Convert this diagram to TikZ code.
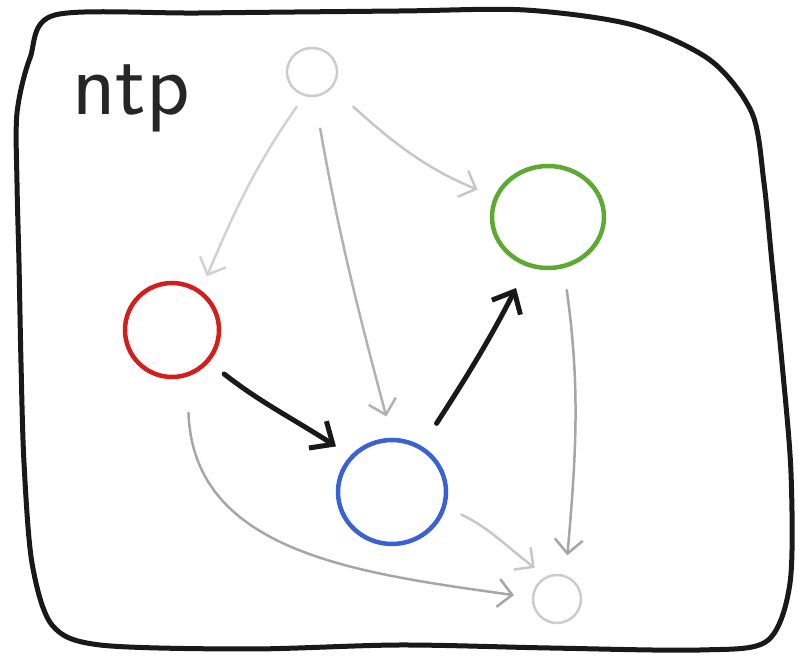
\documentclass[tikz,border=0pt]{standalone}
\usepackage{fontspec}
\usetikzlibrary{arrows.meta,shapes.geometric}
\definecolor{inkred}{RGB}{212,30,30}
\definecolor{inkgreen}{RGB}{92,170,50}
\definecolor{inkblue}{RGB}{58,98,212}
\begin{document}
\begin{tikzpicture}[x=1pt,y=1pt,
  dot/.style={ellipse, draw=#1, line width=4.5pt, inner sep=0pt},
  faint/.style={ellipse, draw=black!20, line width=2.5pt, inner sep=0pt},
  weak/.style={draw=#1, line width=2.5pt, line cap=round, line join=round,
    -{Straight Barb[length=14pt,width=28pt]}},
  bold/.style={draw=black!90, line width=5pt, line cap=round, line join=round,
    -{Straight Barb[length=18pt,width=32pt]}},
]
\useasboundingbox (0,0) rectangle (798,663);

% frame
\draw[line width=5pt, line join=round, black!90] plot[smooth cycle, tension=0.5] coordinates {
  (55,648) (200,650) (400,652) (525,653) (633,638) (710,603) (752,550)
  (764,480) (772,400) (782,300) (791,190) (790,80) (767,22) (700,13)
  (550,15) (400,18) (250,14) (100,18) (52,38) (32,100) (24,200) (21,300)
  (19,400) (17,480) (17,550) (30,605)};

% label
\node[font=\fontsize{90}{90}\sffamily\addfontfeature{LetterSpace=20}, text=black!85,
  anchor=base west, inner sep=0pt] (lbl) at (72,548) {ntp};

% variables
\node[faint, minimum width=50pt, minimum height=48pt] (topn) at (312,591) {};
\node[dot=inkgreen, minimum width=112pt, minimum height=102pt] (green) at (548,446) {};
\node[dot=inkred, minimum width=94pt, minimum height=94pt] (red) at (172,333) {};
\node[dot=inkblue, minimum width=108pt, minimum height=104pt] (blue) at (392,171) {};
\node[faint, minimum width=48pt, minimum height=48pt] (sink) at (557,64) {};

% faint edges
\draw[weak=black!18, shorten <=13pt, shorten >=15pt] (topn.252) to[out=235,in=67] (red.54);
\draw[weak=black!30, shorten <=32pt, shorten >=22pt] (topn.276) to[out=280,in=105] (blue.90);
\draw[weak=black!22, shorten <=28pt, shorten >=18pt] (topn.322) to[out=318,in=158] (green.159);
\draw[weak=black!35, shorten <=22pt, shorten >=20pt] (green.287) to[out=278,in=85] (sink.70);
\draw[weak=black!22, shorten <=17pt, shorten >=14pt] (blue.344) to[out=335,in=143] (sink.116);
\draw[weak=black!35, shorten <=36pt, shorten >=18pt] (red.288) to[out=272,in=172,looseness=1.1] (sink.177);

% strong edges
\draw[bold, shorten <=19pt, shorten >=17pt] (red.319) to[out=322,in=147] (blue.139);
\draw[bold, shorten <=27pt, shorten >=24pt] (blue.57) to[out=57,in=243] (green.247);
\end{tikzpicture}
\end{document}
